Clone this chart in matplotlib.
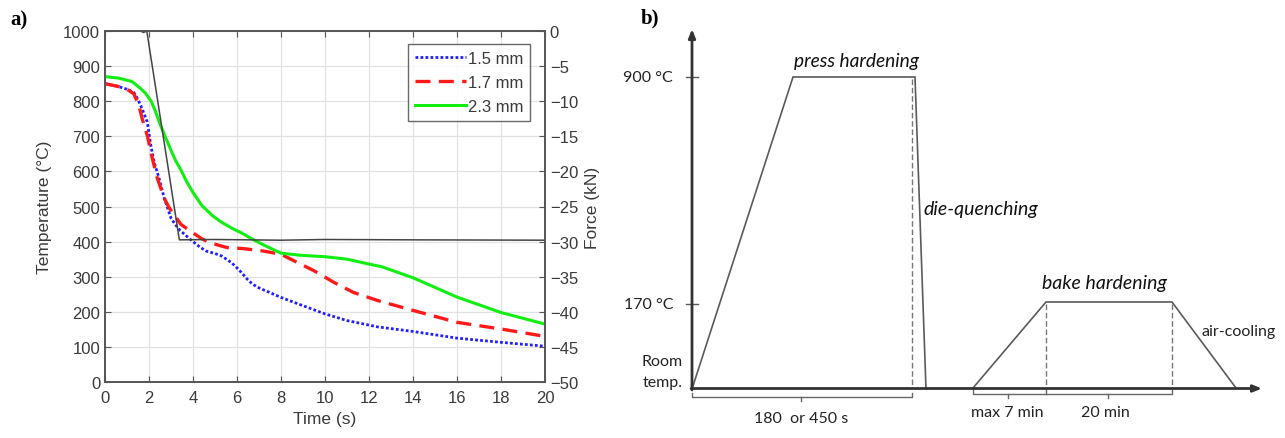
import matplotlib
matplotlib.use("Agg")
import matplotlib.pyplot as plt
import numpy as np

# ---------------- data: panel a) ----------------
t_15 = [0, 0.6, 1.0, 1.31, 1.5, 1.69, 1.92, 2.08, 2.23, 2.46, 2.69, 3.0, 3.2, 3.41, 3.7, 4.0,
        4.3, 4.6, 5.0, 5.3, 5.75, 6.0, 6.2, 6.45, 6.7, 7.0, 7.3, 8.0, 8.8, 10, 11, 12.4,
        14, 16, 18, 20]
T_15 = [850, 842, 834, 825, 805, 778, 741, 675, 627, 580, 524, 467, 448, 432, 416, 400,
        385, 373, 366, 359, 340, 325, 312, 294, 279, 268, 260, 241, 222, 194, 175, 157,
        144, 125, 113, 102]

t_17 = [0, 0.6, 1.0, 1.31, 1.54, 1.69, 1.92, 2.15, 2.38, 2.69, 2.9, 3.15, 3.45, 4.0,
        4.4, 4.77, 5.2, 5.55, 6.3, 7.2, 8.0, 8.6, 9.5, 10.4, 11.3, 12.4, 14, 16, 18, 20]
T_17 = [850, 842, 834, 821, 788, 750, 703, 637, 580, 524, 498, 476, 449, 425,
        408, 397, 389, 383, 380, 373, 364, 345, 317, 284, 255, 232, 204, 170, 151, 130]

t_23 = [0, 0.6, 1.23, 1.6, 1.85, 2.1, 2.3, 2.5, 2.75, 3.0, 3.2, 3.46, 3.7, 4.0, 4.4,
        4.9, 5.3, 5.8, 6.2, 6.7, 7.1, 7.46, 8.0, 8.9, 10, 11, 12, 12.6, 14, 16, 18, 20]
T_23 = [870, 866, 856, 837, 822, 800, 770, 735, 697, 660, 632, 603, 572, 540, 503,
        473, 455, 437, 425, 407, 394, 383, 367, 361, 357, 350, 336, 328, 297, 242, 198, 165]

t_force = [0, 1.6, 1.75, 1.9, 3.38, 5, 8, 10, 14, 20]
F_force = [0, 0, -0.2, 0, -29.75, -29.7, -29.8, -29.7, -29.75, -29.8]

series_labels = ["1.5 mm", "1.7 mm", "2.3 mm"]
x_ticks = list(range(0, 21, 2))
T_ticks = list(range(0, 1001, 100))
F_ticks = list(range(-50, 1, 5))

# ---------------- data: panel b) schematic (diagram coordinates) ----------------
press_x = [692, 793, 915, 926]
press_y = [390, 78, 78, 390]
bake_x = [973, 1046, 1172, 1236]
bake_y = [389, 303, 303, 389]
temp_levels_y = [78, 305]
temp_labels = ["900 °C", "170 °C"]

W, H = 1285, 439
fig = plt.figure(figsize=(W / 100, H / 100), dpi=100)

tick_col = "#3a3a3a"
spine_col = "#555555"
helv = ["Liberation Sans", "DejaVu Sans"]

ax = fig.add_axes([105 / W, 1 - 383 / H, 440 / W, 351 / H])
ax2 = ax.twinx()

ax.plot(t_15, T_15, linestyle=(0, (1, 0.8)), color="#1f1fff", lw=2.0, label=series_labels[0], zorder=3)
ax.plot(t_17, T_17, linestyle=(0, (4.5, 2.5)), color="#ff1a1a", lw=2.4, label=series_labels[1], zorder=3)
ax.plot(t_23, T_23, linestyle="-", color="#11ee11", lw=2.2, label=series_labels[2], zorder=3)
ax2.plot(t_force, F_force, color="#444444", lw=1.1)

ax.set_xlim(0, 20)
ax.set_ylim(0, 1000)
ax2.set_ylim(-50, 0)
ax.set_xticks(x_ticks)
ax.set_yticks(T_ticks)
ax2.set_yticks(F_ticks)
ax.grid(True, color="#e2e2e2", lw=0.9)
ax.set_axisbelow(True)

for a in (ax, ax2):
    for s in a.spines.values():
        s.set_color(spine_col)
        s.set_linewidth(1.2)
    a.tick_params(direction="in", length=4, width=0.8, colors=spine_col,
                  labelcolor=tick_col, labelsize=12)
    for lab in a.get_xticklabels() + a.get_yticklabels():
        lab.set_family(helv)
ax.tick_params(top=True, right=False)
ax.tick_params(axis="x", pad=6)

ax.set_xlabel("Time (s)", fontsize=12.5, color=tick_col, family=helv, labelpad=4)
ax.set_ylabel("Temperature (°C)", fontsize=12.5, color=tick_col, family=helv, labelpad=8)
ax2.set_ylabel("Force (kN)", fontsize=12.5, color=tick_col, family=helv, rotation=90, labelpad=5)

leg = ax.legend(loc="upper right", bbox_to_anchor=(530 / W, 1 - 45 / H),
                bbox_transform=fig.transFigure,
                prop={"family": helv, "size": 12}, frameon=True, fancybox=False,
                handlelength=3.1, handletextpad=0.1, borderpad=0.4, labelspacing=0.55,
                borderaxespad=0)
leg.get_frame().set_edgecolor("#444444")
leg.get_frame().set_linewidth(1.0)
for txt in leg.get_texts():
    txt.set_color(tick_col)

fig.text(10 / W, 1 - 20 / H, "a)", fontsize=15, fontweight="bold",
         family=["Liberation Serif", "DejaVu Serif"], va="center", ha="left")

# ---------------- panel b) ----------------
bx = fig.add_axes([640 / W, 0, 645 / W, 1])
bx.set_xlim(640, 1285)
bx.set_ylim(439, 0)
bx.axis("off")
bx.patch.set_alpha(0)

font_b = ["Lato", "DejaVu Sans"]
lc = "#5a5a5a"
ac = "#333333"

bx.annotate("", xy=(692, 30), xytext=(692, 391),
            arrowprops=dict(arrowstyle="-|>,head_length=0.5,head_width=0.2", lw=2.0, color=ac,
                            shrinkA=0, shrinkB=0))
bx.annotate("", xy=(1262, 389.5), xytext=(691, 389.5),
            arrowprops=dict(arrowstyle="-|>,head_length=0.5,head_width=0.2", lw=2.0, color=ac,
                            shrinkA=0, shrinkB=0))
for yy, lab in zip(temp_levels_y, temp_labels):
    bx.plot([686, 698], [yy, yy], color=lc, lw=1.0)
    bx.text(673, yy, lab, ha="right", va="center", fontsize=11.5, family=font_b, color="#222222")
bx.text(683, 362, "Room", ha="right", va="center", fontsize=11.5, family=font_b, color="#222222")
bx.text(683, 383, "temp.", ha="right", va="center", fontsize=11.5, family=font_b, color="#222222")

bx.plot(press_x, press_y, color=lc, lw=1.2, solid_joinstyle="miter")
bx.plot(bake_x, bake_y, color=lc, lw=1.2, solid_joinstyle="miter")
bx.plot([911.5, 911.5], [80, 389], color="#777777", lw=1.0, linestyle=(0, (4, 2)))
for xx in (bake_x[1], bake_x[2]):
    bx.plot([xx, xx], [305, 389], color="#777777", lw=1.0, linestyle=(0, (4, 2)))

# braces
def brace(x0, x1, mids, y, color="#666666"):
    bx.plot([x0, x0, x1, x1], [y - 4, y, y, y - 4], color=color, lw=1.0)
    for m in mids:
        bx.plot([m, m], [y, y + 4], color=color, lw=1.0)

brace(692, 911.5, [801], 398)
brace(973, 1172, [1008, 1108], 395)
bx.plot([1046, 1046], [389, 395], color="#666666", lw=1.0)

bx.text(801, 419, "180  or 450 s", ha="center", va="center", fontsize=11.5, family=font_b, color="#222222")
bx.text(1007, 413, "max 7 min", ha="center", va="center", fontsize=11.5, family=font_b, color="#222222")
bx.text(1105, 413, "20 min", ha="center", va="center", fontsize=11.5, family=font_b, color="#222222")

bx.text(857, 62, "press hardening", ha="center", va="center", fontsize=13.8, style="italic",
        family=font_b, color="#111111")
bx.text(923, 210, "die-quenching", ha="left", va="center", fontsize=14, style="italic",
        family=font_b, color="#111111")
bx.text(1104, 284, "bake hardening", ha="center", va="center", fontsize=14, style="italic",
        family=font_b, color="#111111")
bx.text(1202, 332, "air-cooling", ha="left", va="center", fontsize=11.5,
        family=font_b, color="#222222")
bx.text(641, 18, "b)", ha="left", va="center", fontsize=15, fontweight="bold",
        family=["Liberation Serif", "DejaVu Serif"])

fig.savefig("out.png", dpi=100)
